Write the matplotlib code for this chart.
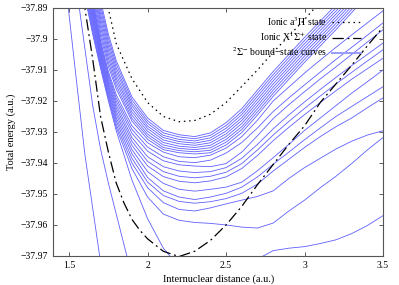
import matplotlib
matplotlib.use("Agg")
import matplotlib.pyplot as plt

plt.rcParams['font.family'] = ['Liberation Serif', 'DejaVu Serif']
plt.rcParams['mathtext.fontset'] = 'stix'

# ionic a3Pi curve (dotted)
x_pi = [1.74, 1.8, 1.9, 2.0, 2.1, 2.2, 2.3, 2.4, 2.5, 2.6, 2.7, 2.8, 2.9, 3.0, 3.1]
y_pi = [-37.888, -37.9015, -37.9128, -37.9205, -37.925, -37.9267, -37.9263, -37.9243,
        -37.9205, -37.9153, -37.91, -37.9043, -37.899, -37.8937, -37.888]

# ionic X1Sigma+ curve (dash-dot)
x_sig = [1.58, 1.6, 1.65, 1.7, 1.75, 1.8, 1.85, 1.9, 1.95, 2.0, 2.1, 2.2, 2.3, 2.4, 2.5,
         2.6, 2.7, 2.8, 2.9, 3.0, 3.1, 3.2, 3.3, 3.4, 3.5]
y_sig = [-37.884, -37.89, -37.9065, -37.925, -37.9365, -37.9465, -37.953, -37.9582, -37.9617,
         -37.9645, -37.9685, -37.9702, -37.9685, -37.965, -37.96, -37.954, -37.947, -37.9405,
         -37.934, -37.928, -37.9205, -37.9145, -37.9085, -37.9022, -37.8962]

# two steep curves on the far left
x_b1 = [1.45, 1.5, 1.55, 1.6, 1.65, 1.7, 1.75]
y_b1 = [-37.8685, -37.8925, -37.915, -37.9372, -37.9546, -37.972, -37.985]
x_b2 = [1.5, 1.55, 1.6, 1.65, 1.7, 1.75, 1.8, 1.85, 1.9, 1.95]
y_b2 = [-37.8585, -37.8845, -37.903, -37.9215, -37.9355, -37.9465, -37.9565, -37.9665,
        -37.9765, -37.985]

# dense band of bound states
x_band = [1.6, 1.65, 1.7, 1.75, 1.8, 1.9, 2.0, 2.1, 2.2, 2.3, 2.4, 2.5, 2.6, 2.7, 2.8,
          3.0, 3.2, 3.4, 3.6]
band_0 = [-37.8565, -37.8735, -37.8875, -37.8985, -37.907, -37.9187, -37.9255, -37.9295, -37.9309, -37.9315,
          -37.9303, -37.927, -37.9225, -37.9165, -37.9105, -37.8995, -37.889, -37.878, -37.868]
band_1 = [-37.8583, -37.8751, -37.889, -37.8998, -37.9081, -37.9197, -37.9264, -37.9303, -37.9316, -37.9322,
          -37.9311, -37.9279, -37.9235, -37.9175, -37.9115, -37.9005, -37.89, -37.879, -37.869]
band_2 = [-37.8601, -37.8767, -37.8904, -37.9011, -37.9093, -37.9207, -37.9272, -37.9311, -37.9324, -37.9329,
          -37.9319, -37.9288, -37.9244, -37.9185, -37.9125, -37.9015, -37.891, -37.88, -37.87]
band_3 = [-37.8619, -37.8783, -37.8919, -37.9024, -37.9104, -37.9216, -37.9281, -37.9318, -37.9331, -37.9336,
          -37.9327, -37.9297, -37.9254, -37.9195, -37.9135, -37.9025, -37.892, -37.881, -37.871]
band_4 = [-37.8637, -37.8799, -37.8933, -37.9037, -37.9116, -37.9226, -37.9289, -37.9326, -37.9338, -37.9343,
          -37.9335, -37.9306, -37.9263, -37.9205, -37.9145, -37.9035, -37.893, -37.882, -37.872]
band_5 = [-37.8655, -37.8815, -37.8948, -37.905, -37.9127, -37.9236, -37.9298, -37.9334, -37.9346, -37.935,
          -37.9343, -37.9315, -37.9273, -37.9215, -37.9155, -37.9045, -37.894, -37.883, -37.873]
band_6 = [-37.8673, -37.8831, -37.8962, -37.9063, -37.9138, -37.9246, -37.9307, -37.9342, -37.9353, -37.9357,
          -37.9351, -37.9324, -37.9283, -37.9225, -37.9165, -37.9055, -37.895, -37.884, -37.874]
band_7 = [-37.8691, -37.8847, -37.8977, -37.9076, -37.915, -37.9256, -37.9315, -37.935, -37.936, -37.9364,
          -37.9359, -37.9333, -37.9292, -37.9235, -37.9175, -37.9065, -37.896, -37.885, -37.875]
band_8 = [-37.8709, -37.8863, -37.8991, -37.9089, -37.9161, -37.9265, -37.9324, -37.9357, -37.9367, -37.9371,
          -37.9367, -37.9342, -37.9302, -37.9245, -37.9185, -37.9075, -37.897, -37.886, -37.876]

# lower bound states
x_low = [1.55, 1.6, 1.65, 1.7, 1.75, 1.8, 1.9, 2.0, 2.1, 2.2, 2.3, 2.4, 2.5, 2.6, 2.7, 2.8,
         2.9, 3.0, 3.1, 3.2, 3.3, 3.4, 3.5]
low_1 = [-37.86, -37.8735, -37.8875, -37.9005, -37.9105, -37.918, -37.928, -37.9335, -37.9365, -37.938, -37.9383,
         -37.9375, -37.9352, -37.9315, -37.9262, -37.92, -37.9155, -37.911, -37.9068, -37.9027, -37.8987, -37.8948, -37.8909]
low_2 = [-37.8609, -37.8747, -37.8885, -37.9013, -37.9114, -37.9191, -37.9292, -37.9349, -37.938, -37.9395, -37.9399,
         -37.9391, -37.9368, -37.9334, -37.9287, -37.9234, -37.919, -37.9148, -37.9107, -37.9066, -37.9027, -37.8988, -37.8948]
low_3 = [-37.8618, -37.8758, -37.8895, -37.9021, -37.9122, -37.9201, -37.9304, -37.9362, -37.9393, -37.9406, -37.941,
         -37.9412, -37.9402, -37.9365, -37.9312, -37.9257, -37.9212, -37.917, -37.9129, -37.909, -37.905, -37.901, -37.897]
low_4 = [-37.8627, -37.877, -37.8905, -37.903, -37.9131, -37.9212, -37.9318, -37.938, -37.9412, -37.9426, -37.9431,
         -37.9428, -37.9415, -37.9385, -37.934, -37.929, -37.9245, -37.9203, -37.9163, -37.9124, -37.9086, -37.905, -37.9013]
low_5 = [-37.8636, -37.8781, -37.8915, -37.9038, -37.914, -37.9222, -37.933, -37.9395, -37.9428, -37.9443, -37.9448,
         -37.9443, -37.943, -37.9402, -37.9358, -37.931, -37.9266, -37.9224, -37.9184, -37.9145, -37.9108, -37.9071, -37.9035]
low_6 = [-37.8645, -37.8793, -37.8925, -37.9046, -37.9148, -37.9233, -37.9343, -37.941, -37.9444, -37.9459, -37.9464,
         -37.9458, -37.9445, -37.9418, -37.9376, -37.9328, -37.9285, -37.9244, -37.9205, -37.9167, -37.913, -37.9096, -37.9062]
low_7 = [-37.8655, -37.8804, -37.8935, -37.9054, -37.9157, -37.9243, -37.9357, -37.9428, -37.9466, -37.9485, -37.9491,
         -37.9485, -37.9478, -37.9462, -37.9425, -37.9383, -37.934, -37.9295, -37.9255, -37.9215, -37.9175, -37.9138, -37.91]
low_8 = [-37.8664, -37.8816, -37.8945, -37.9062, -37.9165, -37.9254, -37.937, -37.9447, -37.949, -37.951, -37.9518,
         -37.951, -37.9498, -37.9478, -37.9445, -37.9404, -37.9365, -37.9325, -37.9287, -37.925, -37.9218, -37.9186, -37.9154]
low_9 = [-37.8673, -37.8827, -37.8955, -37.907, -37.9174, -37.9264, -37.9385, -37.9462, -37.9505, -37.9524, -37.953,
         -37.9525, -37.9515, -37.9498, -37.9468, -37.9426, -37.9388, -37.935, -37.9315, -37.9283, -37.9255, -37.9222, -37.919]
low_10 = [-37.8682, -37.8839, -37.8965, -37.9079, -37.9183, -37.9275, -37.94, -37.948, -37.9528, -37.955, -37.9555,
          -37.9545, -37.9532, -37.952, -37.9508, -37.949, -37.945, -37.9415, -37.9385, -37.9355, -37.933, -37.931, -37.9296]
low_11 = [-37.8691, -37.885, -37.8975, -37.9087, -37.9191, -37.9285, -37.9418, -37.951, -37.9565, -37.9585, -37.9592,
          -37.9595, -37.96, -37.9607, -37.961, -37.9594, -37.9555, -37.952, -37.948, -37.9443, -37.9402, -37.9358, -37.9318]
low_12 = [-37.87, -37.8862, -37.8985, -37.9095, -37.92, -37.9296, -37.9455, -37.958, -37.9675, -37.9735, -37.9765,
          -37.9775, -37.977, -37.9745, -37.971, -37.9683, -37.9675, -37.967, -37.966, -37.9648, -37.9628, -37.9602, -37.957]

band = [band_0, band_1, band_2, band_3, band_4, band_5, band_6, band_7, band_8]
lower = [low_1, low_2, low_3, low_4, low_5, low_6, low_7, low_8, low_9, low_10, low_11, low_12]

y_ticks = [-37.97, -37.96, -37.95, -37.94, -37.93, -37.92, -37.91, -37.9, -37.89]
y_tick_labels = ['\u221237.97', '\u221237.96', '\u221237.95', '\u221237.94', '\u221237.93',
                 '\u221237.92', '\u221237.91', '\u221237.9', '\u221237.89']
x_ticks = [1.5, 2, 2.5, 3, 3.5]
x_tick_labels = ['1.5', '2', '2.5', '3', '3.5']

blue = '#5f5fff'

fig = plt.figure(figsize=(3.99, 2.85), dpi=100)
ax = fig.add_axes([0.134, 0.102, 0.826, 0.870])

ax.plot(x_b1, y_b1, color=blue, lw=0.6)
ax.plot(x_b2, y_b2, color=blue, lw=0.6)
for yy in band:
    ax.plot(x_band, yy, color=blue, lw=0.6)
for yy in lower:
    ax.plot(x_low, yy, color=blue, lw=0.6)

ax.plot(x_pi, y_pi, color='black', lw=0.9, linestyle=(0, (1.2, 3.0)),
        label='Ionic a$^3\\Pi$ state')
ax.plot(x_sig, y_sig, color='black', lw=0.9, linestyle=(0, (9, 3, 1.5, 3)),
        label='Ionic X$^1\\Sigma^{+}$ state')
ax.plot([], [], color='#9a9aff', lw=1.4, label='$^2\\Sigma^{-}$ bound\u2212state curves')

ax.set_xlim(1.4, 3.5)
ax.set_ylim(-37.97, -37.89)
ax.set_xticks(x_ticks)
ax.set_xticklabels(x_tick_labels)
ax.set_yticks(y_ticks)
ax.set_yticklabels(y_tick_labels)
ax.tick_params(direction='in', top=True, right=True, length=3, width=0.6,
               labelsize=7, colors='#444444', labelcolor='black', pad=4)
for sp in ax.spines.values():
    sp.set_color('#555555')
    sp.set_linewidth(0.8)

ax.set_xlabel('Internuclear distance (a.u.)', fontsize=7.5, labelpad=3)
ax.set_ylabel('Total energy (a.u.)', fontsize=7.5, labelpad=3)

ax.legend(loc='upper right', bbox_to_anchor=(0.955, 1.0), frameon=False,
          markerfirst=False, fontsize=7, handlelength=3.0, handletextpad=0.5,
          labelspacing=0.2, borderpad=0.2)

fig.savefig('out.png', dpi=100)
